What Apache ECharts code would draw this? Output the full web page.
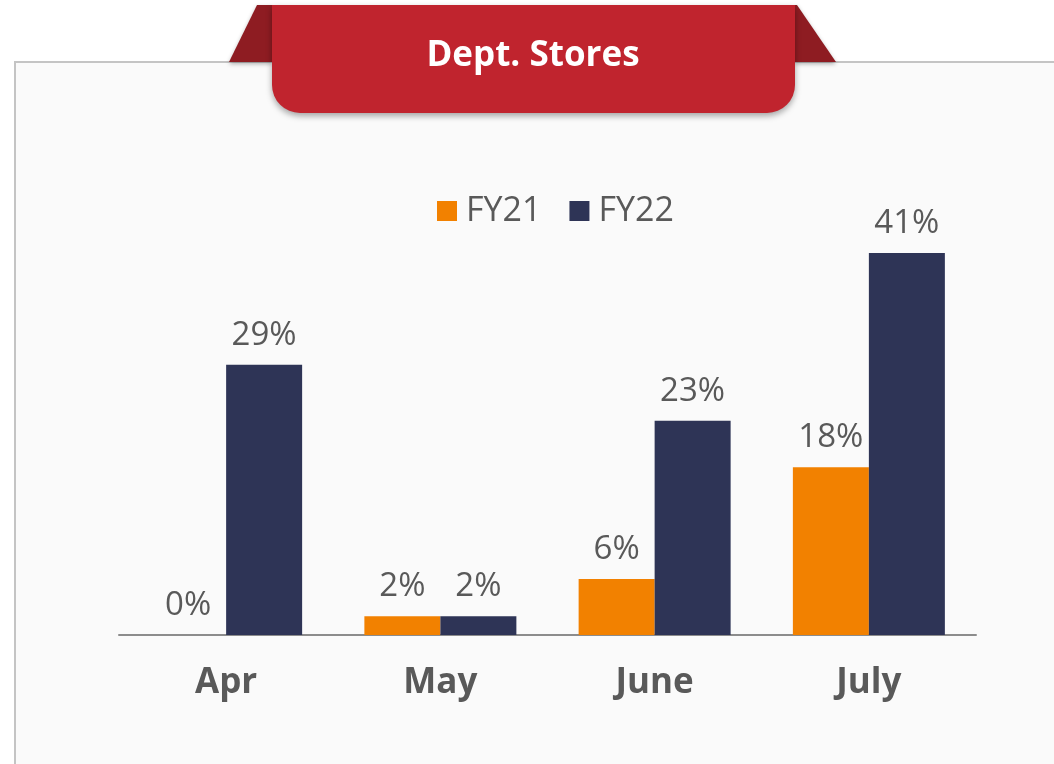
<!DOCTYPE html>
<html>
<head>
<meta charset="utf-8">
<script src="https://cdn.jsdelivr.net/npm/echarts@6/dist/echarts.min.js"></script>
<style>
html,body{margin:0;padding:0;background:#ffffff;}
#main{width:1054px;height:764px;}
</style>
</head>
<body>
<div id="main"></div>
<script>
// chart data
var months = ['Apr', 'May', 'June', 'July'];
var fy21 = [0, 2, 6, 18];
var fy22 = [29, 2, 23, 41];
var seriesNames = ['FY21', 'FY22'];
var chartTitle = 'Dept. Stores';

var myChart = echarts.init(document.getElementById('main'));

var labelStyle = {
    show: true,
    position: 'top',
    distance: 13,
    fontSize: 33,
    fontFamily: 'Open Sans',
    color: '#595959',
    formatter: '{c}%'
};

var option = {
    backgroundColor: '#ffffff',
    animation: false,
    graphic: [
        {   // grey panel
            type: 'rect', z: -10,
            shape: {x: 15, y: 62, width: 1100, height: 800},
            style: {fill: '#fafafa', stroke: '#c4c4c4', lineWidth: 2}
        },
        {   // ribbon folds
            type: 'polygon', z: 1,
            shape: {points: [[229, 62], [257, 5], [272, 5], [272, 62]]},
            style: {fill: '#8e1c22', shadowBlur: 4, shadowColor: 'rgba(0,0,0,0.3)', shadowOffsetY: 2}
        },
        {
            type: 'polygon', z: 1,
            shape: {points: [[795, 5], [797, 5], [836, 62], [795, 62]]},
            style: {fill: '#8e1c22', shadowBlur: 4, shadowColor: 'rgba(0,0,0,0.3)', shadowOffsetY: 2}
        },
        {   // banner
            type: 'rect', z: 2,
            shape: {x: 272, y: 5, width: 523, height: 108, r: [0, 0, 28, 28]},
            style: {fill: '#c0242e', shadowBlur: 6, shadowColor: 'rgba(0,0,0,0.35)', shadowOffsetY: 3}
        },
        {
            type: 'text', z: 3,
            x: 533, y: 56,
            style: {
                text: chartTitle,
                fill: '#ffffff',
                fontSize: 35,
                fontWeight: 'bold',
                fontFamily: 'Open Sans',
                textAlign: 'center',
                textVerticalAlign: 'middle'
            }
        }
    ],
    color: ['#f28100', '#2e3456'],
    legend: {
        data: seriesNames,
        left: 432,
        top: 189,
        icon: 'rect',
        itemWidth: 20,
        itemHeight: 20,
        itemGap: 28,
        textStyle: {fontSize: 34, color: '#595959', fontFamily: 'Open Sans', padding: [0, 0, 0, 4]}
    },
    grid: {
        left: 119,
        right: 78,
        top: 169,
        bottom: 129,
        containLabel: false
    },
    xAxis: {
        type: 'category',
        data: months,
        axisLine: {lineStyle: {color: '#8c8c8c', width: 2}},
        axisTick: {show: false},
        axisLabel: {
            margin: 31,
            fontSize: 35,
            fontWeight: 'bold',
            fontFamily: 'Open Sans',
            color: '#595959'
        }
    },
    yAxis: {
        type: 'value',
        min: 0,
        max: 50,
        show: false,
        splitLine: {show: false}
    },
    series: [
        {
            name: seriesNames[0],
            type: 'bar',
            data: fy21,
            barWidth: 76,
            barGap: '0%',
            label: labelStyle
        },
        {
            name: seriesNames[1],
            type: 'bar',
            data: fy22,
            barWidth: 76,
            barGap: '0%',
            label: labelStyle
        }
    ]
};

myChart.setOption(option);
</script>
</body>
</html>
